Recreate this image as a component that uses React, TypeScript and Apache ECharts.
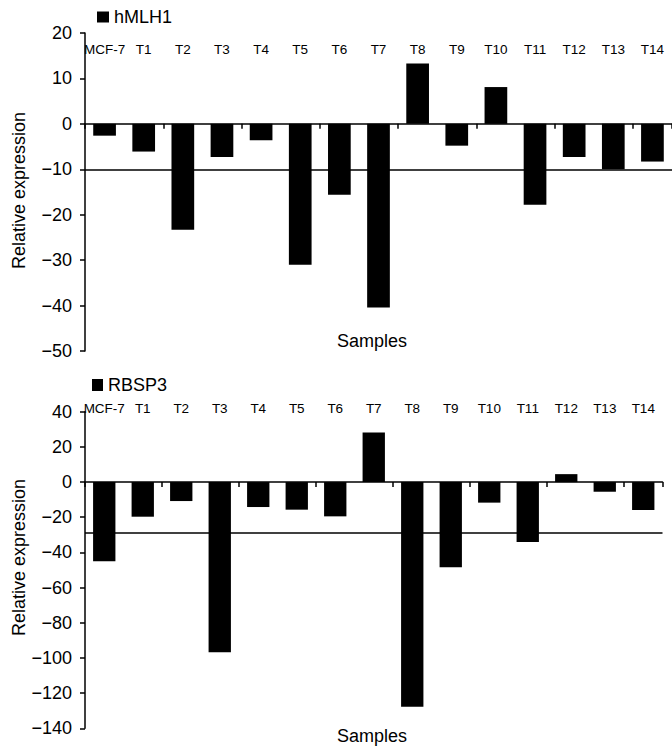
import React, { useEffect, useRef } from "react";
import * as echarts from "echarts";

const categories = ["MCF-7", "T1", "T2", "T3", "T4", "T5", "T6", "T7", "T8", "T9", "T10", "T11", "T12", "T13", "T14"];
const hmlh1Values = [-2.6, -6.1, -23.3, -7.3, -3.6, -31, -15.6, -40.4, 13.3, -4.8, 8.1, -17.8, -7.3, -10, -8.3];
const rbsp3Values = [-45, -19.7, -10.8, -96.8, -14.2, -15.7, -19.5, 28.2, -127.7, -48.5, -11.7, -34.1, 4.5, -5.5, -15.9];
const hmlh1Threshold = -10;
const rbsp3Threshold = -29;
const seriesNames = ["hMLH1", "RBSP3"];
const yAxisTitle = "Relative expression";
const xAxisTitle = "Samples";

const FONT = '"Liberation Sans", Arial, Helvetica, sans-serif';

export default function App() {
  const ref = useRef<HTMLDivElement>(null);
  useEffect(() => {
    document.body.style.margin = "0";
    const chart = echarts.init(ref.current!, null, { renderer: "svg" });
    const yAxisBase = (min: number, max: number, interval: number, gridIndex: number) => ({
      type: "value",
      gridIndex,
      min,
      max,
      interval,
      axisLine: { show: true, lineStyle: { color: "#000", width: 1.5 } },
      axisTick: { show: true, length: 5, lineStyle: { color: "#000", width: 1.5 } },
      splitLine: { show: false },
      axisLabel: {
        color: "#000",
        fontSize: 18,
        fontFamily: FONT,
        margin: 13,
        formatter: (v: number) => String(v).replace("-", "\u2212"),
      },
    });
    const bottomX = (gridIndex: number) => ({
      type: "category",
      gridIndex,
      data: categories,
      position: "bottom",
      axisLine: { show: true, onZero: true, lineStyle: { color: "#000", width: 1.5 } },
      axisTick: { show: true, length: 5, lineStyle: { color: "#000", width: 1.5 } },
      axisLabel: { show: false },
      splitLine: { show: false },
    });
    const topX = (gridIndex: number, inside: boolean, margin: number) => ({
      type: "category",
      gridIndex,
      data: categories,
      position: "top",
      axisLine: { show: false, onZero: false },
      axisTick: { show: false },
      axisLabel: {
        show: true,
        inside,
        margin,
        interval: 0,
        color: "#000",
        fontSize: 13.5,
        fontFamily: FONT,
      },
      splitLine: { show: false },
    });
    const markLine = (value: number) => ({
      silent: true,
      symbol: ["none", "none"],
      label: { show: false },
      lineStyle: { color: "#000", width: 1.5, type: "solid" },
      data: [{ yAxis: value }],
    });
    chart.setOption({
      animation: false,
      backgroundColor: "#fff",
      textStyle: { fontFamily: FONT },
      grid: [
        { left: 85, right: 0, top: 33, bottom: 395 },
        { left: 85, right: 9.5, top: 411.7, bottom: 17.7 },
      ],
      legend: [
        {
          data: [seriesNames[0]],
          left: 97,
          top: 8,
          padding: 0,
          icon: "rect",
          itemWidth: 12,
          itemHeight: 11,
          textStyle: { color: "#000", fontSize: 18, fontFamily: FONT },
        },
        {
          data: [seriesNames[1]],
          left: 92,
          top: 376,
          padding: 0,
          icon: "rect",
          itemWidth: 11,
          itemHeight: 12,
          textStyle: { color: "#000", fontSize: 18, fontFamily: FONT },
        },
      ],
      xAxis: [bottomX(0), topX(0, true, 9), bottomX(1), topX(1, false, -4)],
      yAxis: [yAxisBase(-50, 20, 10, 0), yAxisBase(-140, 40, 20, 1)],
      series: [
        {
          name: seriesNames[0],
          type: "bar",
          xAxisIndex: 0,
          yAxisIndex: 0,
          data: hmlh1Values,
          barWidth: "58%",
          itemStyle: { color: "#000" },
          markLine: markLine(hmlh1Threshold),
        },
        {
          name: seriesNames[1],
          type: "bar",
          xAxisIndex: 2,
          yAxisIndex: 1,
          data: rbsp3Values,
          barWidth: "58%",
          itemStyle: { color: "#000" },
          markLine: markLine(rbsp3Threshold),
        },
      ],
      graphic: [
        {
          type: "text",
          x: 18.5,
          y: 190.5,
          rotation: Math.PI / 2,
          style: { text: yAxisTitle, fill: "#000", fontSize: 18, fontFamily: FONT, align: "center", verticalAlign: "middle" },
        },
        {
          type: "text",
          x: 18.5,
          y: 557.5,
          rotation: Math.PI / 2,
          style: { text: yAxisTitle, fill: "#000", fontSize: 18, fontFamily: FONT, align: "center", verticalAlign: "middle" },
        },
        {
          type: "text",
          x: 372,
          y: 341,
          style: { text: xAxisTitle, fill: "#000", fontSize: 18, fontFamily: FONT, align: "center", verticalAlign: "middle" },
        },
        {
          type: "text",
          x: 372,
          y: 736,
          style: { text: xAxisTitle, fill: "#000", fontSize: 18, fontFamily: FONT, align: "center", verticalAlign: "middle" },
        },
      ],
    });
    return () => chart.dispose();
  }, []);
  return <div ref={ref} style={{ width: 672, height: 746 }} />;
}
